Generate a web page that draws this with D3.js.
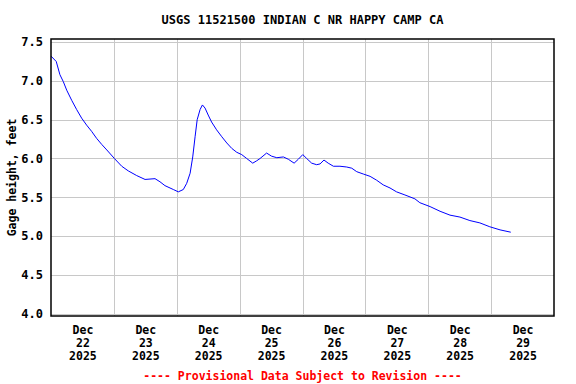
<!DOCTYPE html>
<html>
<head>
<meta charset="utf-8">
<script src="https://cdn.jsdelivr.net/npm/d3@7"></script>
<style>
    body { margin: 0; background: #fff; }
    text { font-family: "DejaVu Sans Mono", "Liberation Mono", monospace; font-weight: bold; }
</style>
</head>
<body>
<div id="chartContainer"></div>
<script>
'use strict';

// hours after Dec 22 2025 00:00
const hours = [0, 2, 3.4, 4.7, 6, 7.9, 9.8, 11.7, 13.6, 15.5, 17.4, 19.4, 21.3, 24.2, 27, 29.5, 32.7, 35.9,
    39.7, 41.6, 43.5, 46.7, 48.6, 50.5, 51.8, 53.1, 54.1, 55, 55.8, 56.9, 57.8, 58.8, 60, 61.3, 63.2, 65.2,
    67.1, 69, 70.9, 72.8, 74.7, 77, 78.5, 79.8, 82.3, 84.2, 86.2, 88.7, 90.6, 92.8, 94.4, 96.1, 97.6, 99.5,
    101.4, 102.7, 104.2, 105.8, 107.8, 110.3, 112.9, 114.8, 116.7, 119.2, 121.8, 124.3, 126.8, 129.4, 131.9,
    135.1, 138.9, 140.8, 144.7, 148.5, 152.3, 156.1, 159.9, 163.7, 167.5, 171.4, 175.5];

// gage height, feet
const gage = [7.32, 7.25, 7.08, 6.99, 6.88, 6.75, 6.63, 6.52, 6.43, 6.35, 6.26, 6.18, 6.11, 6.00, 5.90, 5.84, 5.78, 5.73,
    5.74, 5.70, 5.65, 5.60, 5.57, 5.60, 5.68, 5.81, 6.02, 6.28, 6.50, 6.63, 6.69, 6.65, 6.56, 6.47, 6.37, 6.28,
    6.20, 6.13, 6.08, 6.05, 6.00, 5.94, 5.97, 6.00, 6.07, 6.03, 6.01, 6.02, 5.99, 5.94, 5.99, 6.05, 6.00, 5.94,
    5.92, 5.93, 5.98, 5.94, 5.90, 5.90, 5.89, 5.875, 5.83, 5.80, 5.77, 5.72, 5.66, 5.62, 5.57,
    5.53, 5.48, 5.43, 5.38, 5.32, 5.27, 5.245, 5.20, 5.17, 5.12, 5.08, 5.05];

const yTicks = [4.0, 4.5, 5.0, 5.5, 6.0, 6.5, 7.0, 7.5];
const dayLabels = ["22", "23", "24", "25", "26", "27", "28", "29"];

const title = "USGS 11521500 INDIAN C NR HAPPY CAMP CA";
const yLabel = "Gage height, feet";
const footer = "---- Provisional Data Subject to Revision ----";

const W = 576, H = 384;
const frame = { left: 51, right: 554, top: 39, bottom: 316 };

const start = new Date(2025, 11, 22);
const data = hours.map((h, i) => ({ t: new Date(start.getTime() + h * 3600000), v: gage[i] }));

const svg = d3.select("#chartContainer")
    .append("svg")
    .attr("width", W)
    .attr("height", H);

const x = d3.scaleTime()
    .domain([start, new Date(2025, 11, 30)])
    .range([frame.left, frame.right]);

const y = d3.scaleLinear()
    .domain([3.97, 7.54])
    .range([frame.bottom, frame.top]);

// horizontal grid
svg.append("g")
    .selectAll("line")
    .data(yTicks)
    .enter()
    .append("line")
    .attr("x1", frame.left)
    .attr("x2", frame.right)
    .attr("y1", d => Math.round(y(d)) + 0.5)
    .attr("y2", d => Math.round(y(d)) + 0.5)
    .attr("stroke", "#c8c8c8")
    .attr("stroke-width", 1);

// vertical grid at midnights
const midnights = d3.range(1, 8).map(i => new Date(2025, 11, 22 + i));
svg.append("g")
    .selectAll("line")
    .data(midnights)
    .enter()
    .append("line")
    .attr("x1", d => Math.round(x(d)) + 0.5)
    .attr("x2", d => Math.round(x(d)) + 0.5)
    .attr("y1", frame.top)
    .attr("y2", frame.bottom)
    .attr("stroke", "#c8c8c8")
    .attr("stroke-width", 1);

// data line
svg.append("path")
    .datum(data)
    .attr("fill", "none")
    .attr("stroke", "#0000ff")
    .attr("stroke-width", 1)
    .attr("d", d3.line()
        .x(d => x(d.t))
        .y(d => y(d.v)));

// frame
svg.append("rect")
    .attr("x", frame.left)
    .attr("y", frame.top)
    .attr("width", frame.right - frame.left)
    .attr("height", frame.bottom - frame.top)
    .attr("fill", "none")
    .attr("stroke", "#000")
    .attr("stroke-width", 1.5);

// y axis labels
const yAxis = svg.append("g")
    .attr("transform", "translate(" + frame.left + ",0)")
    .call(d3.axisLeft(y).tickValues(yTicks).tickSize(0).tickPadding(8).tickFormat(d3.format(".1f")));
yAxis.select(".domain").remove();
yAxis.selectAll("text")
    .attr("fill", "#000")
    .style("font-size", "12px")
    .style("font-family", "DejaVu Sans Mono")
    .style("font-weight", "bold");

// x axis labels at noon of each day
const noons = dayLabels.map((d, i) => new Date(2025, 11, 22 + i, 12));
const xAxis = svg.append("g")
    .attr("transform", "translate(0," + frame.bottom + ")")
    .call(d3.axisBottom(x).tickValues(noons).tickSize(0).tickFormat(""));
xAxis.select(".domain").remove();
xAxis.selectAll(".tick").each(function (d, i) {
    const t = d3.select(this).select("text")
        .attr("y", 0)
        .attr("dy", null)
        .attr("fill", "#000")
        .style("font-size", "11.5px")
        .style("font-family", "DejaVu Sans Mono")
        .style("font-weight", "bold");
    ["Dec", dayLabels[i], "2025"].forEach((s, k) => {
        t.append("tspan")
            .attr("x", 0)
            .attr("y", 18 + k * 13)
            .text(s);
    });
});

// title
svg.append("text")
    .attr("x", (frame.left + frame.right) / 2)
    .attr("y", 24)
    .attr("text-anchor", "middle")
    .style("font-size", "12px")
    .text(title);

// y label
svg.append("text")
    .attr("transform", "translate(16," + ((frame.top + frame.bottom) / 2) + ") rotate(-90)")
    .attr("text-anchor", "middle")
    .style("font-size", "11.5px")
    .text(yLabel);

// footer
svg.append("text")
    .attr("x", (frame.left + frame.right) / 2)
    .attr("y", 380)
    .attr("text-anchor", "middle")
    .attr("fill", "#ff0000")
    .style("font-size", "11.5px")
    .text(footer);
</script>
</body>
</html>
